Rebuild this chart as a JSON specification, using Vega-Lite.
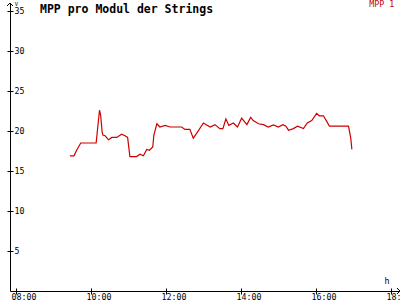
{
  "$schema": "https://vega.github.io/schema/vega-lite/v6.json",
  "width": 390,
  "height": 288,
  "autosize": "none",
  "padding": {"left": 10, "top": 3, "right": 0, "bottom": 9},
  "background": "white",
  "title": {"text": "MPP pro Modul der Strings", "anchor": "start", "frame": "group", "orient": "top", "offset": -23, "baseline": "alphabetic", "dx": 30, "font": "DejaVu Sans Mono", "fontSize": 11.5, "fontWeight": "bold", "color": "black"},
  "config": {"view": {"stroke": null}, "font": "DejaVu Sans Mono"},
  "data": {"values": [
    {"t": 9.45, "v": 16.9}, {"t": 9.56, "v": 16.9}, {"t": 9.63, "v": 17.6}, {"t": 9.74, "v": 18.5},
    {"t": 10.15, "v": 18.5}, {"t": 10.24, "v": 22.6}, {"t": 10.27, "v": 22.0}, {"t": 10.31, "v": 19.9},
    {"t": 10.33, "v": 19.5}, {"t": 10.39, "v": 19.4}, {"t": 10.48, "v": 18.9}, {"t": 10.57, "v": 19.2},
    {"t": 10.70, "v": 19.2}, {"t": 10.83, "v": 19.6}, {"t": 10.92, "v": 19.4}, {"t": 10.99, "v": 19.2},
    {"t": 11.05, "v": 16.8}, {"t": 11.23, "v": 16.8}, {"t": 11.32, "v": 17.1}, {"t": 11.41, "v": 16.9},
    {"t": 11.50, "v": 17.7}, {"t": 11.57, "v": 17.6}, {"t": 11.66, "v": 18.0}, {"t": 11.69, "v": 19.5},
    {"t": 11.77, "v": 20.9}, {"t": 11.85, "v": 20.5}, {"t": 11.99, "v": 20.7}, {"t": 12.12, "v": 20.5},
    {"t": 12.43, "v": 20.5}, {"t": 12.52, "v": 20.2}, {"t": 12.65, "v": 20.2}, {"t": 12.74, "v": 19.1},
    {"t": 12.83, "v": 19.7}, {"t": 13.01, "v": 21.0}, {"t": 13.19, "v": 20.5}, {"t": 13.32, "v": 20.8},
    {"t": 13.45, "v": 20.3}, {"t": 13.53, "v": 20.3}, {"t": 13.61, "v": 21.5}, {"t": 13.69, "v": 20.7},
    {"t": 13.81, "v": 21.0}, {"t": 13.92, "v": 20.5}, {"t": 14.03, "v": 21.6}, {"t": 14.17, "v": 20.8},
    {"t": 14.27, "v": 21.7}, {"t": 14.34, "v": 21.3}, {"t": 14.48, "v": 20.9}, {"t": 14.61, "v": 20.8},
    {"t": 14.74, "v": 20.5}, {"t": 14.88, "v": 20.75}, {"t": 15.01, "v": 20.5}, {"t": 15.13, "v": 20.8},
    {"t": 15.21, "v": 20.6}, {"t": 15.28, "v": 20.1}, {"t": 15.41, "v": 20.3}, {"t": 15.52, "v": 20.6},
    {"t": 15.68, "v": 20.3}, {"t": 15.78, "v": 21.0}, {"t": 15.90, "v": 21.3}, {"t": 16.03, "v": 22.2},
    {"t": 16.10, "v": 21.9}, {"t": 16.21, "v": 21.9}, {"t": 16.30, "v": 21.2}, {"t": 16.37, "v": 20.6},
    {"t": 16.88, "v": 20.6}, {"t": 16.90, "v": 20.1}, {"t": 16.94, "v": 19.1}, {"t": 16.97, "v": 17.7}
  ]},
  "resolve": {"axis": {"x": "independent", "y": "independent"}},
  "layer": [
    {
      "mark": {"type": "line", "strokeWidth": 1.2, "interpolate": "linear"},
      "encoding": {
        "x": {"field": "t", "type": "quantitative",
          "scale": {"domain": [7.8533, 18.2533], "nice": false, "zero": false},
          "axis": {"orient": "bottom", "values": [8, 10, 12, 14, 16, 18],
            "labelExpr": "(datum.value < 10 ? '0' : '') + datum.value + ':00'",
            "grid": false, "domainColor": "black", "domainWidth": 1, "tickColor": "black", "tickSize": 3,
            "labelAlign": "left", "labelOffset": -4.5, "labelBaseline": "alphabetic", "labelPadding": 5,
            "labelFont": "DejaVu Sans Mono", "labelFontSize": 8.3, "labelColor": "black",
            "labelOverlap": false, "labelBound": false, "labelFlush": false,
            "title": "h", "titleX": 376.5, "titleY": -8, "titleAngle": 0, "titleAlign": "center",
            "titleBaseline": "alphabetic", "titleFontWeight": "normal", "titleFontSize": 8.3,
            "titleFont": "DejaVu Sans Mono", "titleColor": "black"}},
        "y": {"field": "v", "type": "quantitative",
          "scale": {"domain": [0, 36], "nice": false, "zero": false},
          "axis": {"orient": "left", "values": [5, 10, 15, 20, 25, 30, 35], "labels": false,
            "tickSize": 3, "domainColor": "black", "tickColor": "black", "grid": false,
            "title": "V", "titleAngle": 0, "titleX": 6, "titleY": -2, "titleAlign": "center",
            "titleBaseline": "top", "titleFontSize": 5.5, "titleFontWeight": "normal",
            "titleFont": "DejaVu Sans Mono", "titleColor": "black"}},
        "color": {"datum": "MPP 1", "type": "nominal",
          "scale": {"range": ["#cc0000"]},
          "legend": {"orient": "none", "legendX": 351, "legendY": -2, "title": null,
            "symbolSize": 0, "symbolStrokeWidth": 0, "symbolType": "stroke", "labelOffset": 0,
            "labelColor": "#c00000", "labelFont": "DejaVu Sans Mono", "labelFontSize": 8.3}}
      }
    },
    {
      "mark": {"type": "point", "shape": "M -1 1 L 0 0 L 1 1", "filled": false, "stroke": "black", "strokeWidth": 1, "size": 36, "opacity": 1},
      "encoding": {
        "x": {"datum": 7.8533, "type": "quantitative",
          "scale": {"domain": [7.8533, 18.2533], "nice": false, "zero": false},
          "axis": {"orient": "top", "offset": -288, "values": [8, 10, 12, 14, 16, 18], "labels": false,
            "domain": false, "tickSize": 3, "tickColor": "black", "grid": false, "title": null}},
        "y": {"datum": 36, "type": "quantitative",
          "scale": {"domain": [0, 36], "nice": false, "zero": false},
          "axis": {"orient": "right", "offset": -390, "values": [5, 10, 15, 20, 25, 30, 35],
            "domain": false, "tickSize": 3, "tickColor": "black", "labelPadding": 1,
            "labelFont": "DejaVu Sans Mono", "labelFontSize": 8.3, "labelColor": "black",
            "labelAlign": "left", "labelBaseline": "middle", "grid": false, "title": null}}
      }
    },
    {
      "mark": {"type": "point", "shape": "M -1 -1 L 0 0 L -1 1", "filled": false, "stroke": "black", "strokeWidth": 1, "size": 36, "opacity": 1},
      "encoding": {
        "x": {"datum": 18.2533, "type": "quantitative",
          "scale": {"domain": [7.8533, 18.2533], "nice": false, "zero": false}, "axis": null},
        "y": {"datum": 0, "type": "quantitative",
          "scale": {"domain": [0, 36], "nice": false, "zero": false}, "axis": null}
      }
    }
  ]
}
